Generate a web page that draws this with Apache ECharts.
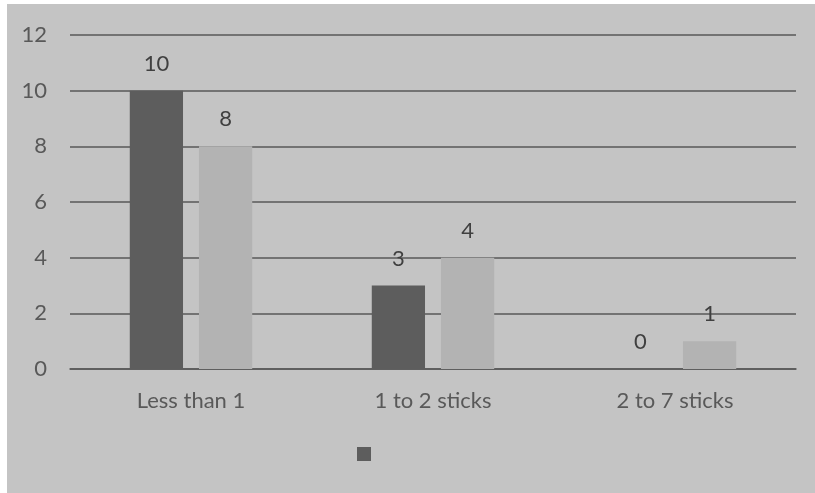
<!DOCTYPE html>
<html>
<head>
<meta charset="utf-8">
<script src="https://cdn.jsdelivr.net/npm/echarts@6/dist/echarts.min.js"></script>
<style>
html,body{margin:0;padding:0;background:#ffffff;}
#chart{position:absolute;left:7px;top:4px;width:808px;height:489px;background:#c4c4c4;}
</style>
</head>
<body>
<div id="chart"></div>
<script>
var categories = ['Less than 1', '1 to 2 sticks', '2 to 7 sticks'];
var seriesA = [10, 3, 0];
var seriesB = [8, 4, 1];
var yTicks = [0, 2, 4, 6, 8, 10, 12];

var font = 'Lato';
var fs = 22;
var textColor = '#595959';
var chart = echarts.init(document.getElementById('chart'), null, {renderer: 'canvas'});
chart.setOption({
  backgroundColor: '#c4c4c4',
  animation: false,
  grid: {left: 63, right: 19, top: 31, bottom: 124, containLabel: false},
  legend: {
    data: [{name: ' '}],
    left: 345, top: 434,
    itemWidth: 14, itemHeight: 14, icon: 'rect',
    textStyle: {fontFamily: font, fontSize: fs, color: textColor}
  },
  xAxis: {
    type: 'category',
    data: categories,
    axisLine: {lineStyle: {color: '#595959', width: 1.5}},
    axisTick: {show: false},
    axisLabel: {fontFamily: font, fontSize: fs, color: textColor, margin: 21}
  },
  yAxis: {
    type: 'value',
    min: yTicks[0], max: yTicks[yTicks.length - 1], interval: 2,
    axisLine: {show: false},
    axisTick: {show: false},
    splitLine: {lineStyle: {color: '#595959', width: 1.5}},
    axisLabel: {fontFamily: font, fontSize: fs, color: textColor, margin: 23}
  },
  series: [
    {
      name: ' ', type: 'bar', data: seriesA,
      barWidth: '22%', barGap: '30%',
      itemStyle: {color: '#5d5d5d'},
      label: {show: true, position: 'top', distance: 16, fontFamily: font, fontSize: fs, color: '#404040'}
    },
    {
      name: 'B', type: 'bar', data: seriesB,
      barWidth: '22%',
      itemStyle: {color: '#b3b3b3'},
      label: {show: true, position: 'top', distance: 16, fontFamily: font, fontSize: fs, color: '#404040'}
    }
  ]
});
</script>
</body>
</html>
